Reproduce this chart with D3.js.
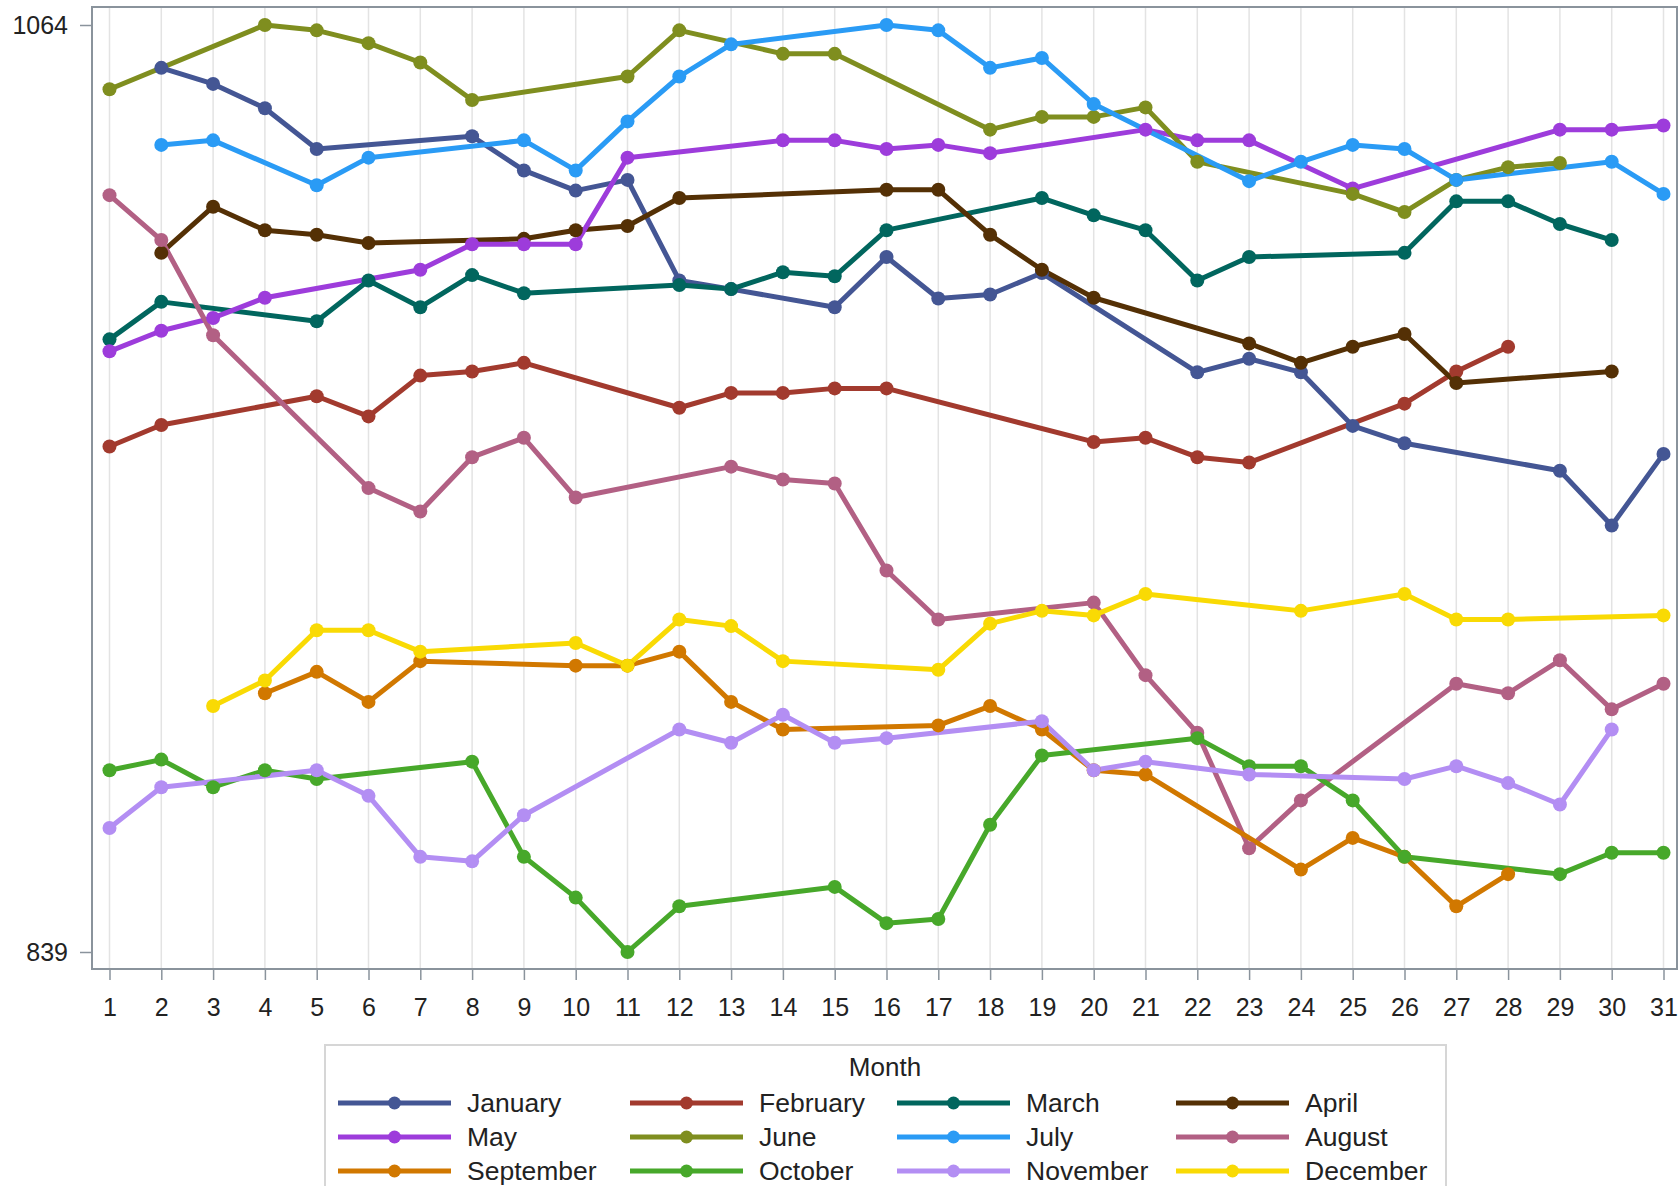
<!DOCTYPE html>
<html>
<head>
<meta charset="utf-8">
<script src="https://cdn.jsdelivr.net/npm/d3@7"></script>
<style>
  body { margin: 0; background: #fff; }
  text { font-family: "Liberation Sans", Arial, sans-serif; fill: #222; }
</style>
</head>
<body>
<div id="chart"></div>
<script>
// ---- data: [day, value] per month ----
const january = [[2,1053.6],[3,1049.7],[4,1043.8],[5,1033.9],[8,1037.0],[9,1028.7],[10,1023.8],[11,1026.4],[12,1002.0],[13,999.9],[15,995.5],[16,1007.7],[17,997.6],[18,998.6],[19,1003.8],[22,979.7],[23,983.0],[24,979.7],[25,966.7],[26,962.5],[29,955.8],[30,942.5],[31,959.9]];
const february = [[1,961.7],[2,966.9],[5,973.9],[6,969.0],[7,978.9],[8,979.9],[9,982.0],[12,971.1],[13,974.7],[14,974.7],[15,975.8],[16,975.8],[20,962.8],[21,963.8],[22,959.1],[23,957.8],[26,972.1],[27,979.9],[28,985.9]];
const march = [[1,987.7],[2,996.8],[5,992.1],[6,1002.0],[7,995.5],[8,1003.3],[9,998.9],[12,1000.9],[13,999.9],[14,1004.0],[15,1003.0],[16,1014.2],[19,1022.0],[20,1017.8],[21,1014.2],[22,1002.0],[23,1007.7],[26,1008.7],[27,1021.2],[28,1021.2],[29,1015.7],[30,1011.8]];
const april = [[2,1008.7],[3,1019.9],[4,1014.2],[5,1013.1],[6,1011.1],[9,1012.1],[10,1014.2],[11,1015.2],[12,1022.0],[16,1024.0],[17,1024.0],[18,1013.1],[19,1004.6],[20,997.8],[23,986.7],[24,982.0],[25,985.9],[26,989.0],[27,977.1],[30,979.9]];
const may = [[1,984.8],[2,989.8],[3,992.9],[4,997.8],[7,1004.6],[8,1010.8],[9,1010.8],[10,1010.8],[11,1031.8],[14,1036.0],[15,1036.0],[16,1033.9],[17,1034.9],[18,1032.9],[21,1038.6],[22,1036.0],[23,1036.0],[25,1024.3],[29,1038.6],[30,1038.6],[31,1039.6]];
const june = [[1,1048.4],[4,1064.0],[5,1062.7],[6,1059.6],[7,1054.9],[8,1045.8],[11,1051.5],[12,1062.7],[14,1057.0],[15,1057.0],[18,1038.6],[19,1041.7],[20,1041.7],[21,1044.0],[22,1030.8],[25,1023.0],[26,1018.6],[27,1026.4],[28,1029.5],[29,1030.5]];
const july = [[2,1034.9],[3,1036.0],[5,1025.1],[6,1031.8],[9,1036.0],[10,1028.7],[11,1040.6],[12,1051.5],[13,1059.3],[16,1064.0],[17,1062.7],[18,1053.6],[19,1056.0],[20,1044.8],[23,1026.1],[24,1030.8],[25,1034.9],[26,1033.9],[27,1026.4],[30,1030.8],[31,1023.0]];
const august = [[1,1022.7],[2,1011.8],[3,988.7],[6,951.6],[7,945.9],[8,959.1],[9,963.8],[10,949.3],[13,956.8],[14,953.7],[15,952.7],[16,931.6],[17,919.7],[20,923.8],[21,906.2],[22,892.2],[23,864.2],[24,875.8],[27,904.1],[28,901.8],[29,909.8],[30,897.9],[31,904.1]];
const september = [[4,901.8],[5,907.0],[6,899.7],[7,909.6],[10,908.5],[11,908.5],[12,911.9],[13,899.7],[14,893.0],[17,894.0],[18,898.7],[19,893.0],[20,883.1],[21,882.1],[24,859.0],[25,866.7],[26,862.1],[27,850.1],[28,857.9]];
const october = [[1,883.1],[2,885.7],[3,879.0],[4,883.1],[5,881.0],[8,885.2],[9,862.1],[10,852.2],[11,839.0],[12,850.1],[15,854.8],[16,846.0],[17,847.0],[18,869.9],[19,886.7],[22,890.9],[23,884.1],[24,884.1],[25,875.8],[26,862.1],[29,857.9],[30,863.1],[31,863.1]];
const november = [[1,869.1],[2,879.0],[5,883.1],[6,876.9],[7,862.1],[8,861.0],[9,872.2],[12,893.0],[13,889.8],[14,896.6],[15,889.8],[16,890.9],[19,895.0],[20,883.1],[21,885.2],[23,882.1],[26,881.0],[27,884.1],[28,880.0],[29,874.8],[30,893.0]];
const december = [[3,898.7],[4,904.9],[5,917.1],[6,917.1],[7,911.9],[10,914.0],[11,908.5],[12,919.7],[13,918.1],[14,909.6],[17,907.5],[18,918.7],[19,921.8],[20,920.7],[21,925.9],[24,921.8],[26,925.9],[27,919.7],[28,919.7],[31,920.7]];

const monthNames = ['January','February','March','April','May','June','July','August','September','October','November','December'];
const monthData = [january, february, march, april, may, june, july, august, september, october, november, december];
const colors = ['#445694','#A23A2E','#01665E','#543005','#9D3CDB','#7F8E1F','#2A9BF5','#B26084','#D17800','#47A82A','#B38EF3','#F9DA04'];
const days = d3.range(1, 32);
const yTicks = [839, 1064];

// ---- layout ----
const W = 1679, H = 1186;
const frame = { left: 92, top: 7, right: 1677, bottom: 969 };

const svg = d3.select('#chart').append('svg')
  .attr('width', W).attr('height', H);

const x = d3.scaleLinear().domain([1, 31]).range([109.5, 1663.5]);
const y = d3.scaleLinear().domain([839, 1064]).range([952, 25]);

// vertical grid lines
svg.append('g').selectAll('line').data(days).join('line')
  .attr('x1', d => x(d)).attr('x2', d => x(d))
  .attr('y1', frame.top).attr('y2', frame.bottom)
  .attr('stroke', '#e3e3e3').attr('stroke-width', 1.5);

// axes
const xAxis = svg.append('g')
  .attr('transform', `translate(0,${frame.bottom})`)
  .call(d3.axisBottom(x).tickValues(days).tickFormat(d3.format('d')).tickSize(11).tickPadding(18).tickSizeOuter(0));
const yAxis = svg.append('g')
  .attr('transform', `translate(${frame.left},0)`)
  .call(d3.axisLeft(y).tickValues(yTicks).tickFormat(d3.format('d')).tickSize(12).tickPadding(12).tickSizeOuter(0));

[xAxis, yAxis].forEach(g => {
  g.select('.domain').remove();
  g.selectAll('.tick line').attr('stroke', '#8a939c').attr('stroke-width', 1.5);
  g.selectAll('.tick text').attr('font-size', 25).attr('fill', '#222')
    .attr('font-family', '"Liberation Sans", Arial, sans-serif');
});

// plot frame
svg.append('rect')
  .attr('x', frame.left).attr('y', frame.top)
  .attr('width', frame.right - frame.left).attr('height', frame.bottom - frame.top)
  .attr('fill', 'none').attr('stroke', '#8a939c').attr('stroke-width', 2);

// series lines first, then markers on top
const line = d3.line().x(d => x(d[0])).y(d => y(d[1]));

svg.append('g').selectAll('path').data(monthData).join('path')
  .attr('d', line)
  .attr('fill', 'none')
  .attr('stroke', (d, i) => colors[i])
  .attr('stroke-width', 5)
  .attr('stroke-linejoin', 'round');

monthData.forEach((data, i) => {
  svg.append('g').selectAll('circle').data(data).join('circle')
    .attr('cx', d => x(d[0])).attr('cy', d => y(d[1]))
    .attr('r', 7)
    .attr('fill', colors[i]);
});

// legend
const legend = svg.append('g');
legend.append('rect')
  .attr('x', 325).attr('y', 1045).attr('width', 1121).attr('height', 170)
  .attr('fill', '#fff').attr('stroke', '#d6d6d6').attr('stroke-width', 2);
legend.append('text')
  .attr('x', 885).attr('y', 1076)
  .attr('text-anchor', 'middle').attr('font-size', 26)
  .text('Month');

const colX = [338, 630, 897, 1176];
const rowY = [1103, 1137, 1171];
monthNames.forEach((name, i) => {
  const cx = colX[i % 4], cy = rowY[Math.floor(i / 4)];
  const item = legend.append('g');
  item.append('line')
    .attr('x1', cx).attr('x2', cx + 113).attr('y1', cy).attr('y2', cy)
    .attr('stroke', colors[i]).attr('stroke-width', 5);
  item.append('circle')
    .attr('cx', cx + 56.5).attr('cy', cy).attr('r', 6.5)
    .attr('fill', colors[i]);
  item.append('text')
    .attr('x', cx + 129).attr('y', cy + 9)
    .attr('font-size', 26.5)
    .text(name);
});
</script>
</body>
</html>
